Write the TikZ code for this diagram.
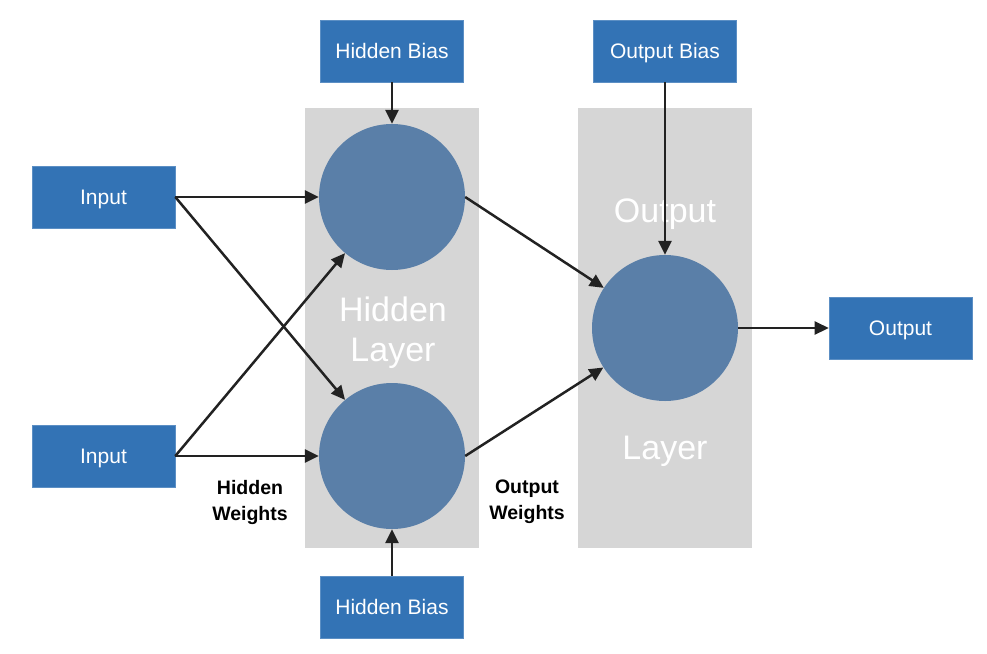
\documentclass[tikz,border=0pt]{standalone}
\usepackage{fontspec}
\setmainfont{Liberation Sans}
\usetikzlibrary{arrows.meta}
\definecolor{boxblue}{HTML}{3373B5}
\definecolor{circblue}{HTML}{5A7FA8}
\definecolor{layergrey}{HTML}{D6D6D6}
\definecolor{arrowdark}{HTML}{222222}
\begin{document}
\begin{tikzpicture}[x=1pt,y=-1pt,
  bluebox/.style={fill=boxblue,draw=boxblue!80!white,line width=0.6pt,minimum width=143pt,minimum height=62pt,inner sep=0pt,text=white,font=\fontsize{21}{24}\selectfont,text height=15pt,text depth=0pt},
  neuron/.style={circle,fill=circblue,minimum size=146pt,inner sep=0pt},
  layerbox/.style={fill=layergrey,minimum width=174pt,minimum height=440pt,inner sep=0pt},
  layertext/.style={text=white,font=\fontsize{34}{40}\selectfont,inner sep=0pt,text height=24.4pt,text depth=0pt},
  wlabel/.style={font=\bfseries\fontsize{19.5}{26}\selectfont,align=center,inner sep=0pt},
  conn/.style={draw=arrowdark,line width=2.5pt,-{Triangle[length=14pt,width=13pt]}}]
\useasboundingbox (0,0) rectangle (987,653);
\node[layerbox] (hl) at (392,328) {};
\node[layerbox] (ol) at (665,328) {};
\node[layertext] (thid) at (393,309) {Hidden};
\node[layertext] (thlay) at (393,349) {Layer};
\node[layertext] (tout) at (665,210) {Output};
\node[layertext] (tolay) at (665,447) {Layer};
\node[neuron] (h1) at (392,197) {};
\node[neuron] (h2) at (392,456) {};
\node[neuron] (o) at (665,328) {};
\node[bluebox] (in1) at (103.5,197) {Input};
\node[bluebox] (in2) at (103.5,456) {Input};
\node[bluebox] (hb1) at (392,51) {Hidden Bias};
\node[bluebox] (ob) at (665,51) {Output Bias};
\node[bluebox] (hb2) at (392,607) {Hidden Bias};
\node[bluebox] (out) at (900.5,328) {Output};
\node[wlabel] (hw) at (250,502) {Hidden\\Weights};
\node[wlabel] (ow) at (527,502) {Output\\Weights};
\draw[conn] (in1.east) -- (h1);
\draw[conn] (in1.east) -- (h2);
\draw[conn] (in2.east) -- (h1);
\draw[conn] (in2.east) -- (h2);
\draw[conn] (h1.east) -- (o);
\draw[conn] (h2.east) -- (o);
\draw[conn] (hb1) -- (h1);
\draw[conn] (hb2) -- (h2);
\draw[conn] (ob) -- (o);
\draw[conn] (o) -- (out);
\end{tikzpicture}
\end{document}
